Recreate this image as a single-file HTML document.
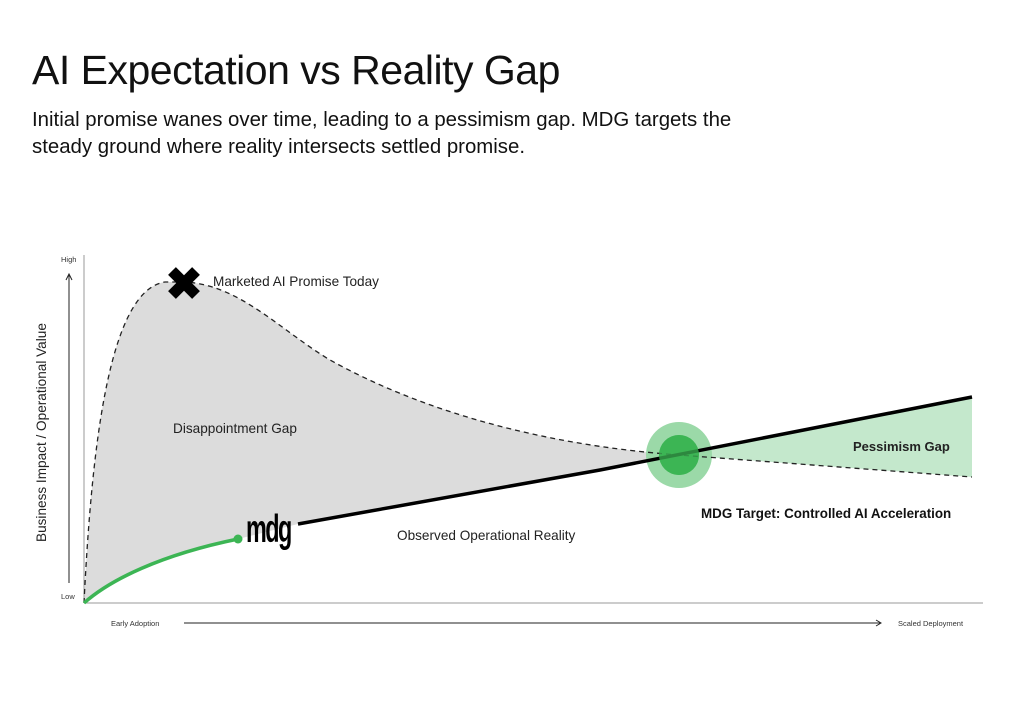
<!DOCTYPE html>
<html><head><meta charset="utf-8"><style>
body{margin:0;background:#fff;width:1024px;height:702px;overflow:hidden;font-family:"Liberation Sans","DejaVu Sans",sans-serif;color:#111}
h1{position:absolute;left:32px;top:47px;margin:0;font-size:41px;font-weight:400;letter-spacing:-0.5px}
p{position:absolute;left:32px;top:107px;margin:0;font-size:20.4px;line-height:27px;color:#111}
</style></head><body>
<h1>AI Expectation vs Reality Gap</h1>
<p>Initial promise wanes over time, leading to a pessimism gap. MDG targets the<br>steady ground where reality intersects settled promise.</p>
<svg width="1024" height="702" style="position:absolute;left:0;top:0" font-family="Liberation Sans, sans-serif">
<path d="M84,603 C92,440 110,290 165,282 L185,282 C240,285 280,330 330,360 C420,410 540,445 679,455 L600,470 L298,524 L238,539 C160,555 110,580 84,603 Z" fill="#dcdcdc"/>
<path d="M679,455 L972,397 L972,477 Z" fill="#c4e8cc"/>
<line x1="84" y1="255" x2="84" y2="603" stroke="#999" stroke-width="1"/>
<line x1="84" y1="603" x2="983" y2="603" stroke="#999" stroke-width="1"/>
<circle cx="679" cy="455" r="33" fill="#9bd9a8"/>
<circle cx="679" cy="455" r="20" fill="#3cb554"/>
<path d="M84,603 C92,440 110,290 165,282 L185,282 C240,285 280,330 330,360 C420,410 540,445 679,455 L972,477" fill="none" stroke="#222" stroke-width="1.3" stroke-dasharray="5,4"/>
<path d="M84,603 C110,580 160,555 238,539" fill="none" stroke="#3cb554" stroke-width="3.5"/>
<circle cx="238" cy="539" r="4.5" fill="#3cb554"/>
<path d="M298,524 L600,470 L972,397" fill="none" stroke="#000" stroke-width="3.5"/>
<circle cx="679" cy="455" r="20" fill="#3cb554" opacity="0.75"/>
<g transform="translate(184,283) rotate(45)" fill="#000"><rect x="-17" y="-5.5" width="34" height="11"/><rect x="-5.5" y="-17" width="11" height="34"/></g>
<text x="0" y="0" font-size="30" font-weight="700" transform="translate(246,542) scale(0.78,1.3)" letter-spacing="-2">mdg</text>
<text x="213" y="286" font-size="13.6" fill="#222">Marketed AI Promise Today</text>
<text x="173" y="433" font-size="13.6" fill="#222">Disappointment Gap</text>
<text x="397" y="540" font-size="13.6" fill="#222">Observed Operational Reality</text>
<text x="853" y="451" font-size="13" font-weight="700" fill="#222">Pessimism Gap</text>
<text x="701" y="518" font-size="13.4" font-weight="700" fill="#111">MDG Target: Controlled AI Acceleration</text>
<text x="61" y="262" font-size="7.5" fill="#333">High</text>
<text x="61" y="599" font-size="7.5" fill="#333">Low</text>
<line x1="69" y1="275" x2="69" y2="583" stroke="#222" stroke-width="1"/>
<path d="M66,280 L69,274 L72,280" fill="none" stroke="#222"/>
<text transform="translate(46,542) rotate(-90)" font-size="13.6" fill="#222">Business Impact / Operational Value</text>
<text x="111" y="626" font-size="7.5" fill="#333">Early Adoption</text>
<line x1="184" y1="623" x2="880" y2="623" stroke="#222" stroke-width="1"/>
<path d="M876,620 L881,623 L876,626" fill="none" stroke="#222"/>
<text x="898" y="626" font-size="7.5" fill="#333">Scaled Deployment</text>
</svg>
</body></html>
